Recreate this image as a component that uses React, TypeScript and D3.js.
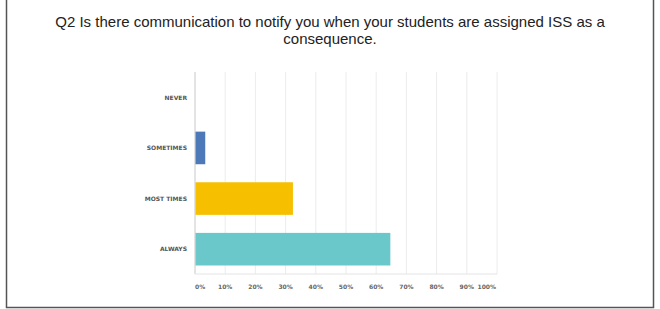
import React from "react";
import * as d3 from "d3";

const categories = ["NEVER", "SOMETIMES", "MOST TIMES", "ALWAYS"];
const values = [0, 3.23, 32.26, 64.52];
const colors = ["#4e79b8", "#4e79b8", "#f6bf00", "#6bc8ca"];
const ticks = [0, 10, 20, 30, 40, 50, 60, 70, 80, 90, 100];
const titleLines = [
  "Q2 Is there communication to notify you when your students are assigned ISS as a",
  "consequence.",
];

export default function App() {
  const W = 660;
  const H = 309;
  const x = d3.scaleLinear().domain([0, 100]).range([195, 497]);
  const y = d3
    .scaleBand<string>()
    .domain(categories)
    .range([72, 274.5])
    .paddingInner(0.356)
    .paddingOuter(0.178);
  const labelFont = "'DejaVu Sans', sans-serif";
  return (
    <svg
      width={W}
      height={H}
      style={{ position: "absolute", left: 0, top: 0, background: "#fff" }}
    >
      <rect x={0} y={0} width={W} height={H} fill="#fff" />
      {/* frame */}
      <path
        d={`M6.5,0 V307.5 H653.5 V0`}
        fill="none"
        stroke="#555"
        strokeWidth={1.5}
      />
      {titleLines.map((t, i) => (
        <text
          key={i}
          x={330}
          y={27 + i * 17}
          textAnchor="middle"
          fontFamily="'Liberation Sans', Arial, sans-serif"
          fontSize={15}
          fill="#222"
        >
          {t}
        </text>
      ))}
      {/* gridlines */}
      {ticks.map((t) => (
        <line
          key={t}
          x1={x(t)}
          x2={x(t)}
          y1={72}
          y2={274}
          stroke={t === 0 ? "#c8c8c8" : "#ececec"}
          strokeWidth={1}
        />
      ))}
      <line x1={x(0)} x2={x(100)} y1={274} y2={274} stroke="#e4e4e4" />
      {/* bars */}
      {categories.map((c, i) => (
        <rect
          key={c}
          x={x(0) + 0.5}
          y={y(c)}
          width={Math.max(0, x(values[i]) - x(0))}
          height={y.bandwidth()}
          fill={colors[i]}
        />
      ))}
      {/* category labels */}
      {categories.map((c) => (
        <text
          key={c}
          x={187}
          y={(y(c) as number) + y.bandwidth() / 2 + 2.2}
          textAnchor="end"
          fontFamily={labelFont}
          fontWeight="bold"
          fontSize={6}
          fill="#555"
        >
          {c}
        </text>
      ))}
      {/* tick labels */}
      {ticks.map((t, i) => (
        <text
          key={t}
          x={i === 0 ? x(t) : i === ticks.length - 1 ? x(t) - 1 : x(t)}
          y={289}
          textAnchor={i === 0 ? "start" : i === ticks.length - 1 ? "end" : "middle"}
          fontFamily={labelFont}
          fontWeight="bold"
          fontSize={6}
          fill="#666"
        >
          {t + "%"}
        </text>
      ))}
    </svg>
  );
}
